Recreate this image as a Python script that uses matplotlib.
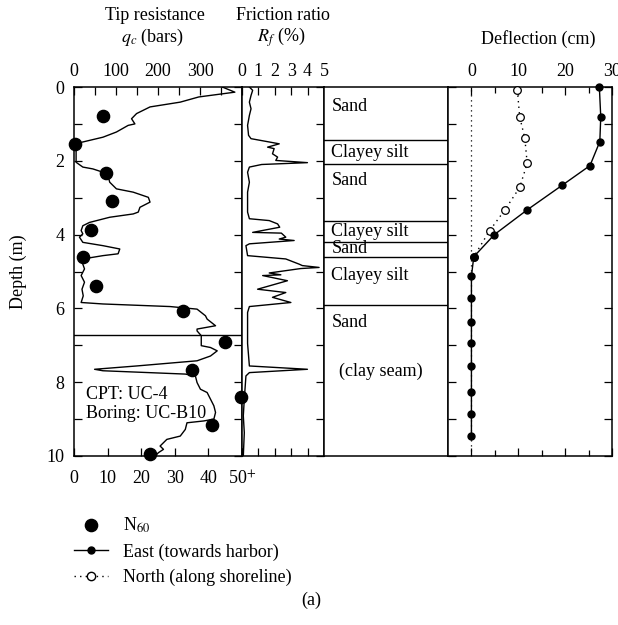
import numpy as np
import matplotlib
matplotlib.use("Agg")
import matplotlib.pyplot as plt
from matplotlib.lines import Line2D
from matplotlib.ticker import MultipleLocator, FixedLocator

plt.rcParams["font.family"] = ["Liberation Serif", "DejaVu Serif"]
plt.rcParams["mathtext.fontset"] = "stix"
plt.rcParams["font.size"] = 13

# --- CPT tip resistance q_c (bars) vs depth (m) ---
qc_depth = [0.0, 0.14, 0.27, 0.41, 0.54, 0.72, 0.86, 1.0, 1.04, 1.22, 1.36, 1.49, 1.54,
            1.67, 2.04, 2.17, 2.22, 2.31, 2.40, 2.58, 2.76, 2.85, 2.99, 3.12, 3.26, 3.39,
            3.44, 3.53, 3.67, 3.76, 3.89, 3.98, 4.07, 4.21, 4.30, 4.39, 4.52, 4.57, 4.66,
            4.80, 4.93, 5.11, 5.29, 5.48, 5.66, 5.84, 5.88, 5.95, 6.02, 6.20, 6.29, 6.47,
            6.56, 6.61, 6.74, 7.01, 7.06, 7.15, 7.29, 7.42, 7.56, 7.65, 7.69, 7.78, 7.83,
            8.01, 8.19, 8.28, 8.46, 8.64, 8.82, 9.00, 9.05, 9.10, 9.28, 9.46, 9.55, 9.73,
            9.82, 9.91, 10.0]
qc_bars = [353, 383, 297, 253, 181, 149, 137, 145, 129, 101, 69, 21, 0,
           5, 5, 21, 45, 69, 81, 85, 101, 141, 177, 181, 157, 153,
           141, 85, 37, 21, 17, 21, 13, 21, 69, 109, 105, 69, 21,
           21, 25, 17, 25, 19, 22, 17, 69, 229, 293, 313, 317, 337,
           293, 293, 303, 303, 325, 341, 325, 293, 149, 49, 69, 265, 289,
           293, 301, 317, 325, 333, 337, 333, 309, 269, 265, 253, 221, 205,
           213, 201, 193]

# --- Friction ratio R_f (%) ---
rf_depth = [0.0, 0.09, 0.23, 0.41, 0.59, 0.77, 1.04, 1.31, 1.40, 1.49, 1.54, 1.63, 1.67,
            1.81, 1.90, 1.99, 2.05, 2.10, 2.17, 2.31, 2.58, 2.85, 3.39, 3.57, 3.62, 3.71,
            3.80, 3.94, 3.96, 4.07, 4.12, 4.16, 4.25, 4.30, 4.57, 4.59, 4.66, 4.80, 4.84,
            4.89, 4.92, 5.04, 5.09, 5.11, 5.25, 5.48, 5.57, 5.70, 5.84, 5.95, 6.11, 6.95,
            7.56, 7.65, 7.74, 7.83, 8.46, 8.91, 9.37, 10.0]
rf_pct = [0.45, 0.65, 0.55, 0.45, 0.55, 0.45, 0.34, 0.40, 0.55, 1.66, 2.27, 1.56, 1.96,
          1.86, 2.17, 2.06, 3.99, 1.2, 0.45, 0.34, 0.45, 0.34, 0.34, 0.45, 1.66, 2.17,
          2.3, 0.65, 2.4, 2.67, 2.27, 3.18, 0.45, 0.24, 0.34, 0.85, 2.67, 3.48, 3.68,
          4.70, 3.58, 1.66, 2.37, 1.26, 2.77, 0.95, 2.67, 1.86, 2.98, 0.45, 0.34, 0.34,
          0.45, 3.99, 0.45, 0.24, 0.14, 0.08, 0.14, 0.08]

# --- SPT N60 ---
n60_depth = [0.79, 1.54, 2.32, 3.09, 3.88, 4.62, 5.38, 6.07, 6.90, 7.67, 8.41, 9.16, 9.95]
n60_blows = [8.5, 0.2, 9.5, 11.4, 5.0, 2.8, 6.5, 32.5, 44.8, 35.0, 49.7, 41.0, 22.6]

# --- Soil profile ---
layer_tops = [0.0, 1.44, 2.09, 3.62, 4.21, 4.60, 5.92]
layer_names = ["Sand", "Clayey silt", "Sand", "Clayey silt", "Sand", "Clayey silt", "Sand"]
label_depths = [0.52, 1.77, 2.54, 3.92, 4.39, 5.10, 6.39]
cpt_marker_depth = 6.72

# --- Lateral deflection (cm) ---
east_depth = [0.0, 0.81, 1.48, 2.13, 2.66, 3.33, 4.0, 4.6, 5.13, 5.73, 6.36, 6.95,
              7.56, 8.26, 8.86, 9.45]
east_defl = [27.3, 27.6, 27.4, 25.3, 19.4, 11.9, 4.9, 0.5, 0.0, 0.0, 0.0, 0.0,
             0.0, 0.0, 0.0, 0.0]
north_depth = [0.08, 0.81, 1.39, 2.07, 2.72, 3.32, 3.89, 4.6]
north_defl = [9.8, 10.3, 11.4, 11.9, 10.3, 7.2, 3.9, 0.5]

W, H = 618, 625
fig = plt.figure(figsize=(W / 100, H / 100), dpi=100)


def add_ax(x0, x1, y0=87, y1=456):
    return fig.add_axes([x0 / W, 1 - y1 / H, (x1 - x0) / W, (y1 - y0) / H])


def style(ax):
    for s in ax.spines.values():
        s.set_linewidth(1.1)
    ax.tick_params(which="both", direction="in", width=0.9, pad=5)
    ax.tick_params(which="major", length=6)
    ax.tick_params(which="minor", length=6)
    ax.set_ylim(10, 0)


ax_q = add_ax(74, 242)
ax_f = add_ax(242, 324)
ax_s = add_ax(324, 448)
ax_d = add_ax(448, 612)

# N60 on a bottom scale (twin first, then set up both x axes)
ax_n = ax_q.twiny()

# tip resistance
style(ax_q)
ax_q.plot(qc_bars, qc_depth, color="black", lw=1.0)
ax_q.set_xlim(0, 400)
ax_q.xaxis.set_ticks_position("top")
ax_q.xaxis.set_major_locator(FixedLocator([0, 100, 200, 300]))
ax_q.xaxis.set_minor_locator(FixedLocator([50, 150, 250, 350]))
ax_q.tick_params(axis="x", which="both", top=True, bottom=False, labeltop=True, labelbottom=False)
ax_q.yaxis.set_major_locator(MultipleLocator(2))
ax_q.yaxis.set_minor_locator(MultipleLocator(1))
ax_q.tick_params(axis="y", which="both", left=True, right=True, pad=7)
ax_q.set_ylabel("Depth (m)", labelpad=14)
ax_q.axhline(cpt_marker_depth, color="black", lw=1.0)
ax_q.text(28, 8.1, "CPT: UC-4\nBoring: UC-B10", ha="left", va="top", linespacing=1.2)

ax_n.set_ylim(10, 0)
ax_n.set_xlim(0, 50)
ax_n.xaxis.set_ticks_position("bottom")
ax_n.xaxis.set_label_position("bottom")
ax_n.set_xticks([0, 10, 20, 30, 40, 50])
ax_n.set_xticklabels(["0", "10", "20", "30", "40", "50$^{+}$"])
ax_n.tick_params(axis="x", direction="in", length=6, width=0.9, pad=10,
                 top=False, labeltop=False, bottom=True, labelbottom=True)
for s in ax_n.spines.values():
    s.set_visible(False)
ax_n.plot(n60_blows, n60_depth, "o", color="black", ms=8.8, clip_on=False, zorder=5)

# friction ratio
style(ax_f)
ax_f.plot(rf_pct, rf_depth, color="black", lw=1.0)
ax_f.set_xlim(0, 5)
ax_f.set_xticks([0, 1, 2, 3, 4, 5])
ax_f.tick_params(axis="x", top=True, bottom=True, labeltop=True, labelbottom=False)
ax_f.yaxis.set_major_locator(MultipleLocator(1))
ax_f.tick_params(axis="y", left=False, right=True, labelleft=False)

# soil column
ax_s.set_xlim(0, 1)
ax_s.set_ylim(10, 0)
ax_s.set_xticks([])
ax_s.set_yticks([])
for s in ax_s.spines.values():
    s.set_linewidth(1.1)
for top in layer_tops[1:]:
    ax_s.axhline(top, color="black", lw=1.0)
for name, d in zip(layer_names, label_depths):
    ax_s.text(0.06, d, name, ha="left", va="center")
ax_s.text(0.46, 7.71, "(clay seam)", ha="center", va="center")

# deflection
style(ax_d)
ax_d.axvline(0, color="black", lw=0.9, ls=(0, (1, 3)))
ax_d.plot(north_defl, north_depth, ls=(0, (1, 3)), color="black", lw=1.0,
          marker="o", mfc="white", mec="black", ms=5.5, mew=0.9, clip_on=False, zorder=3)
ax_d.plot(east_defl, east_depth, "-", color="black", lw=1.0, marker="o", ms=5,
          clip_on=False, zorder=4)
ax_d.set_xlim(-5, 30)
ax_d.xaxis.set_major_locator(FixedLocator([0, 10, 20, 30]))
ax_d.xaxis.set_minor_locator(FixedLocator([5, 15, 25]))
ax_d.tick_params(axis="x", which="both", top=True, bottom=True, labeltop=True, labelbottom=False)
ax_d.tick_params(axis="x", which="minor", length=4)
ax_d.yaxis.set_major_locator(MultipleLocator(1))
ax_d.tick_params(axis="y", left=True, right=True, labelleft=False)

# headers
fig.text(155 / W, 1 - 15 / H, "Tip resistance", ha="center", va="center")
fig.text(153 / W, 1 - 37 / H, "$q_c$ (bars)", ha="center", va="center")
fig.text(283 / W, 1 - 15 / H, "Friction ratio", ha="center", va="center")
fig.text(281 / W, 1 - 37 / H, "$R_f$ (%)", ha="center", va="center")
fig.text(538 / W, 1 - 39 / H, "Deflection (cm)", ha="center", va="center")

handles = [
    Line2D([], [], ls="none", marker="o", color="black", ms=8.8),
    Line2D([], [], ls="-", color="black", lw=1.0, marker="o", ms=5),
    Line2D([], [], ls=(0, (1, 3)), color="black", lw=1.0, marker="o", mfc="white",
           mec="black", ms=6),
]
labels = ["N$_{60}$", "East (towards harbor)", "North (along shoreline)"]
fig.legend(handles, labels, loc="upper left", bbox_to_anchor=(74 / W, 1 - 516 / H),
           frameon=False, handlelength=1.9, handletextpad=0.8, labelspacing=0.45,
           borderpad=0, borderaxespad=0)

fig.text(311 / W, 1 - 600 / H, "(a)", ha="center", va="center")

fig.savefig("out.png", dpi=100)
